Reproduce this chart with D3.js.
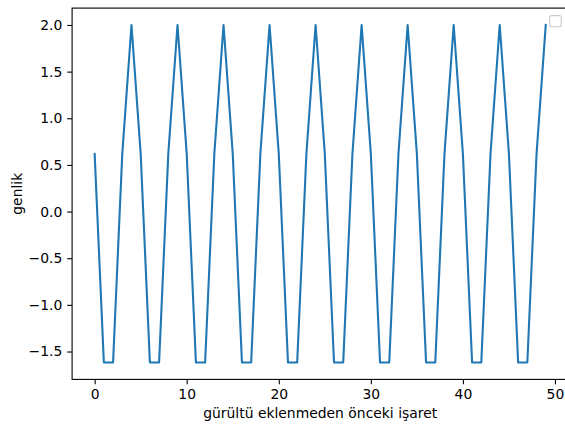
<!DOCTYPE html>
<html>
<head>
<meta charset="utf-8">
<script src="https://cdn.jsdelivr.net/npm/d3@7"></script>
<style>
  body { margin: 0; background: #fff; }
  svg { display: block; font-family: "DejaVu Sans", sans-serif; }
</style>
</head>
<body>
<div id="chart"></div>
<script>
// values (signal before noise)
const xs = d3.range(0, 50);
const amplitude = [
  0.618, -1.618, -1.618, 0.618, 2.0,
  0.618, -1.618, -1.618, 0.618, 2.0,
  0.618, -1.618, -1.618, 0.618, 2.0,
  0.618, -1.618, -1.618, 0.618, 2.0,
  0.618, -1.618, -1.618, 0.618, 2.0,
  0.618, -1.618, -1.618, 0.618, 2.0,
  0.618, -1.618, -1.618, 0.618, 2.0,
  0.618, -1.618, -1.618, 0.618, 2.0,
  0.618, -1.618, -1.618, 0.618, 2.0,
  0.618, -1.618, -1.618, 0.618, 2.0
];
const xTicks = [0, 10, 20, 30, 40, 50];
const yTicks = [-1.5, -1.0, -0.5, 0.0, 0.5, 1.0, 1.5, 2.0];
const xLabel = 'gürültü eklenmeden önceki işaret';
const yLabel = 'genlik';

const width = 565, height = 426;
const margin = { top: 8.1, right: -3.3, bottom: 46.6, left: 72.1 };
const graphWidth = width - margin.left - margin.right;
const graphHeight = height - margin.top - margin.bottom;

const svg = d3.select('#chart')
  .append('svg')
  .attr('width', width)
  .attr('height', height);

const graph = svg.append('g')
  .attr('transform', `translate(${margin.left}, ${margin.top})`);

// matplotlib style 5% margins
const xPad = (d3.max(xs) - d3.min(xs)) * 0.05;
const yMin = d3.min(amplitude), yMax = d3.max(amplitude);
const yPad = (yMax - yMin) * 0.05;

const x = d3.scaleLinear()
  .domain([d3.min(xs) - xPad, d3.max(xs) + xPad])
  .range([0, graphWidth]);

const y = d3.scaleLinear()
  .domain([yMin - yPad, yMax + yPad])
  .range([graphHeight, 0]);

const minus = s => s.replace('-', '\u2212');

const xAxis = d3.axisBottom(x)
  .tickValues(xTicks)
  .tickSize(4.9)
  .tickPadding(4.9)
  .tickSizeOuter(0)
  .tickFormat(d => minus(d3.format('d')(d)));

const yAxis = d3.axisLeft(y)
  .tickValues(yTicks)
  .tickSize(4.9)
  .tickPadding(4.9)
  .tickSizeOuter(0)
  .tickFormat(d => minus(d3.format('.1f')(d)));

const xAxisGroup = graph.append('g')
  .attr('transform', `translate(0, ${graphHeight})`)
  .call(xAxis);
const yAxisGroup = graph.append('g').call(yAxis);

[xAxisGroup, yAxisGroup].forEach(g => {
  g.select('.domain').remove();
  g.selectAll('line').attr('stroke', '#000').attr('stroke-width', 1.1);
  g.selectAll('text')
    .attr('fill', '#000')
    .style('font-size', '13.9px')
    .style('font-family', '"DejaVu Sans", sans-serif');
});

// the line
const line = d3.line()
  .x((d, i) => x(xs[i]))
  .y(d => y(d));

graph.append('path')
  .datum(amplitude)
  .attr('fill', 'none')
  .attr('stroke', '#1f77b4')
  .attr('stroke-width', 2.08)
  .attr('stroke-linejoin', 'round')
  .attr('stroke-linecap', 'square')
  .attr('d', line);

// spines
graph.append('rect')
  .attr('x', 0).attr('y', 0)
  .attr('width', graphWidth).attr('height', graphHeight)
  .attr('fill', 'none')
  .attr('stroke', '#000')
  .attr('stroke-width', 1.1);

// empty legend frame (upper right)
graph.append('rect')
  .attr('x', graphWidth - 7 - 11.6)
  .attr('y', 7.5)
  .attr('width', 11.6)
  .attr('height', 11.2)
  .attr('rx', 2).attr('ry', 2)
  .attr('fill', 'rgba(255,255,255,0.8)')
  .attr('stroke', '#cccccc')
  .attr('stroke-width', 1.1);

// axis labels
svg.append('text')
  .attr('x', margin.left + x(24.5))
  .attr('y', 418)
  .attr('text-anchor', 'middle')
  .style('font-size', '13.9px')
  .text(xLabel);

svg.append('text')
  .attr('transform', `translate(22, ${margin.top + graphHeight / 2}) rotate(-90)`)
  .attr('text-anchor', 'middle')
  .style('font-size', '13.9px')
  .text(yLabel);
</script>
</body>
</html>
